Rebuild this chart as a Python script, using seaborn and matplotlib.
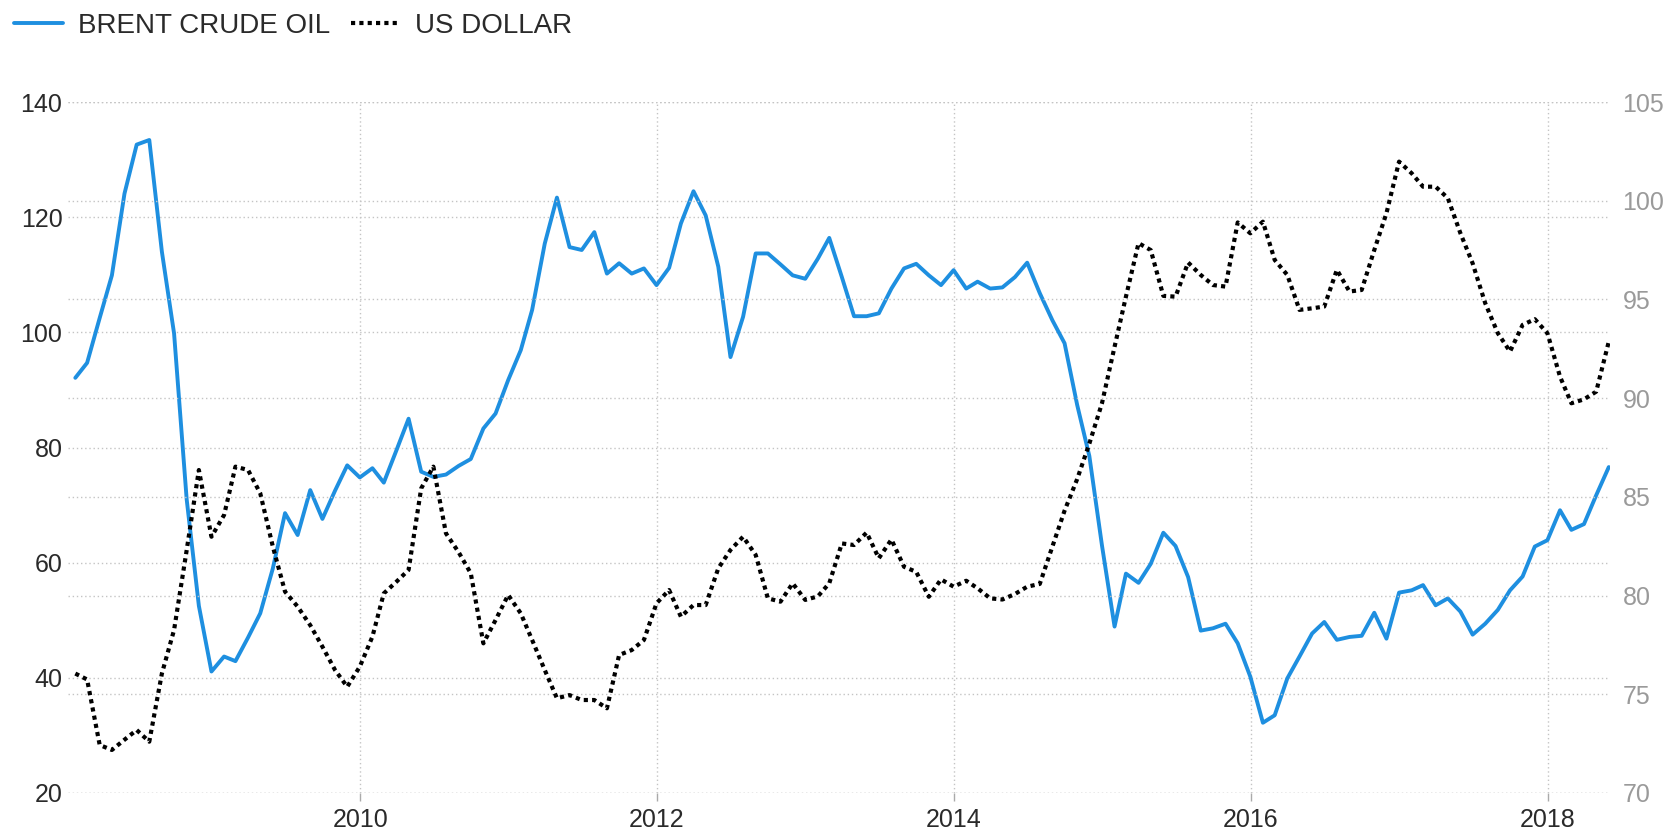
import numpy as np
import pandas as pd
import matplotlib
matplotlib.use("Agg")
import matplotlib.pyplot as plt
import seaborn as sns
from matplotlib.lines import Line2D

# ---------------- data (monthly, Jan 2008 - May 2018) ----------------
start_month = "2008-01-01"
n_months = 125

brent = [92.1, 94.7, 102.5, 109.9, 124.1, 132.6, 133.4, 114.0, 99.8, 71.0, 52.5, 41.1,
         43.7, 42.9, 47.0, 51.2, 59.0, 68.6, 64.8, 72.6, 67.6, 72.5, 76.9, 74.8,
         76.4, 73.9, 79.5, 85.0, 75.8, 74.9, 75.3, 76.8, 78.0, 83.3, 85.9, 91.7,
         96.9, 103.9, 115.4, 123.4, 114.8, 114.3, 117.4, 110.2, 112.0, 110.2, 111.1, 108.2,
         111.2, 118.9, 124.5, 120.3, 111.4, 95.7, 102.7, 113.7, 113.7, 111.8, 109.9, 109.3,
         112.8, 116.4, 109.6, 102.8, 102.8, 103.3, 107.6, 111.1, 111.9, 109.9, 108.2, 110.8,
         107.6, 108.8, 107.6, 107.8, 109.6, 112.1, 106.8, 102.1, 98.1, 87.4, 78.5, 63.0,
         48.9, 58.1, 56.5, 59.8, 65.2, 62.9, 57.5, 48.2, 48.6, 49.4, 46.0, 40.2,
         32.2, 33.5, 39.9, 43.7, 47.7, 49.7, 46.6, 47.1, 47.3, 51.3, 46.8, 54.8,
         55.2, 56.1, 52.6, 53.8, 51.5, 47.5, 49.4, 51.8, 55.2, 57.6, 62.8, 63.9,
         69.1, 65.7, 66.7, 71.7, 76.6]

usd = [76.05, 75.75, 72.43, 72.18, 72.7, 73.19, 72.6, 76.05, 78.26, 82.3, 86.36, 82.98,
       84.08, 86.53, 86.36, 85.18, 82.48, 80.2, 79.44, 78.5, 77.41, 76.23, 75.38, 76.4,
       77.92, 80.11, 80.7, 81.3, 85.43, 86.53, 83.15, 82.2, 81.13, 77.58, 78.76, 80.03,
       79.1, 77.75, 76.23, 74.8, 74.96, 74.71, 74.71, 74.29, 76.99, 77.24, 77.75, 79.61,
       80.28, 78.93, 79.52, 79.52, 81.38, 82.31, 82.98, 82.06, 79.86, 79.69, 80.62, 79.78,
       79.96, 80.62, 82.64, 82.56, 83.19, 81.89, 82.84, 81.46, 81.2, 79.94, 80.82, 80.45,
       80.75, 80.37, 79.86, 79.8, 80.08, 80.45, 80.59, 82.48, 84.3, 85.9, 87.7, 89.74,
       92.6, 95.14, 97.85, 97.5, 95.18, 95.14, 96.87, 96.24, 95.73, 95.65, 98.9, 98.35,
       98.94, 97.0, 96.24, 94.47, 94.55, 94.64, 96.5, 95.4, 95.48, 97.5, 99.37, 101.98,
       101.39, 100.71, 100.71, 100.13, 98.35, 96.83, 94.81, 93.29, 92.36, 93.71, 94.0, 93.29,
       91.09, 89.74, 89.94, 90.33, 92.86]

series_names = ["BRENT CRUDE OIL", "US DOLLAR"]
left_ticks = [20, 40, 60, 80, 100, 120, 140]
right_ticks = [70, 75, 80, 85, 90, 95, 100, 105]
year_ticks = [2010, 2012, 2014, 2016, 2018]

dates = pd.date_range(start_month, periods=n_months, freq="MS") + pd.offsets.MonthEnd(0)
df = pd.DataFrame({"date": dates, "brent": brent, "usd": usd})

# ---------------- style ----------------
sns.set_theme(style="white")
plt.rcParams["font.family"] = ["Liberation Sans", "DejaVu Sans"]

BLUE = "#1E8FE0"
GRID = "#c4c4c4"
DARK = "#2a2a2a"
GREY = "#9a9a9a"

fig = plt.figure(figsize=(16.70, 8.34), dpi=100)
ax = fig.add_axes([68 / 1670, 1 - 793 / 834, (1610 - 68) / 1670, (793 - 102) / 834])
ax2 = ax.twinx()

sns.lineplot(data=df, x="date", y="brent", ax=ax, color=BLUE, linewidth=2.8)
sns.lineplot(data=df, x="date", y="usd", ax=ax2, color="black", linewidth=3.0,
             linestyle=(0, (1.0, 1.0)))

ax.set_xlim(pd.Timestamp("2008-01-13"), pd.Timestamp("2018-06-03"))
ax.set_ylim(20, 140)
ax2.set_ylim(70, 105)

ax.set_yticks(left_ticks)
ax2.set_yticks(right_ticks)
ax.set_xticks([pd.Timestamp(f"{y}-01-01") for y in year_ticks])
ax.set_xticklabels([str(y) for y in year_ticks])

for a in (ax, ax2):
    for s in a.spines.values():
        s.set_visible(False)
    a.set_xlabel("")
    a.set_ylabel("")

ax.grid(True, axis="both", color=GRID, linestyle=(0, (1, 2)), linewidth=1.0)
ax2.grid(True, axis="y", color=GRID, linestyle=(0, (1, 2)), linewidth=1.0)
ax.set_axisbelow(True)

ax.tick_params(axis="y", length=0, pad=4, labelsize=18, labelcolor=DARK)
ax2.tick_params(axis="y", length=0, pad=9, labelsize=18, labelcolor=GREY)
ax.tick_params(axis="x", length=6, width=1, color="#aaaaaa", direction="out", pad=5,
               labelsize=18, labelcolor=DARK)
ax.xaxis.set_ticks_position("bottom")

# ---------------- legend ----------------
handles = [
    Line2D([], [], color=BLUE, linewidth=2.8),
    Line2D([], [], color="black", linewidth=3.0, linestyle=(0, (1.0, 1.0))),
]
fig.legend(handles, series_names, loc="upper left",
           bbox_to_anchor=(14 / 1670, 1 - 13 / 834), ncol=2, frameon=False,
           fontsize=20, labelcolor=DARK, handlelength=1.75, handletextpad=0.55,
           columnspacing=0.75, borderpad=0, borderaxespad=0)

fig.savefig("out.png", dpi=100, facecolor="white")
